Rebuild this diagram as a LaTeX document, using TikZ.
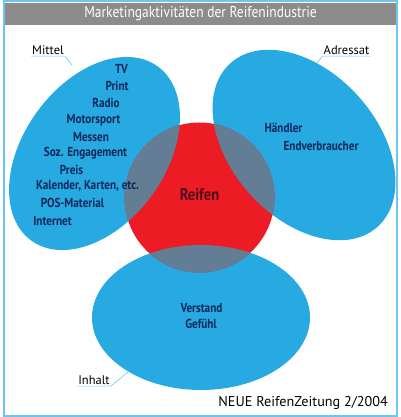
\documentclass[tikz,border=0pt]{standalone}
\usepackage{fontspec}
\setmainfont{PT Sans}
\newfontfamily\condfont[FakeStretch=0.86]{PT Sans}
\usetikzlibrary{positioning}

\definecolor{ellblue}{RGB}{39,169,225}
\definecolor{reifred}{RGB}{237,28,36}
\definecolor{overlapgray}{RGB}{98,125,148}
\definecolor{itemnavy}{RGB}{16,40,90}
\definecolor{reiftext}{RGB}{80,15,30}
\definecolor{framebl}{RGB}{110,198,238}
\definecolor{titlegray}{RGB}{140,140,140}

\tikzset{
  item/.style={font=\condfont\bfseries\fontsize{13}{15}\selectfont, text=itemnavy, inner sep=0pt},
  tag/.style={font=\fontsize{12.5}{14}\selectfont, text=black, inner xsep=1pt, inner ysep=1.5pt, text depth=0pt},
  leader/.style={framebl, line width=0.6pt},
}

\begin{document}
\begin{tikzpicture}[x=1pt,y=1pt]
\useasboundingbox (0,0) rectangle (400,417);

% frame and title bar
\draw[framebl, line width=1.5pt] (4,1) rectangle (397,416);
\fill[titlegray] (4.75,392) rectangle (396.25,414);
\node[font=\condfont\fontsize{15.7}{17}\selectfont, text=white, inner sep=0pt] (title) at (200.5,403) {Marketingaktivit\"aten der Reifenindustrie};

% ellipses
\fill[ellblue, rotate around={54:(94.5,263.5)}] (94.5,263.5) ellipse (107.6pt and 71pt); % Mittel
\fill[ellblue, rotate around={-48:(304,272)}] (304,272) ellipse (110pt and 73pt); % Adressat
\fill[ellblue] (201,99.5) ellipse (109pt and 72.5pt); % Inhalt

% Reifen
\fill[reifred] (199.5,219.5) circle (75pt);

% overlaps
\begin{scope}
\clip (199.5,219.5) circle (75pt);
\fill[overlapgray, rotate around={54:(94.5,263.5)}] (94.5,263.5) ellipse (107.6pt and 71pt);
\fill[overlapgray, rotate around={-48:(304,272)}] (304,272) ellipse (110pt and 73pt);
\fill[overlapgray] (201,99.5) ellipse (109pt and 72.5pt);
\end{scope}

\node[item, font=\condfont\bfseries\fontsize{17}{19}\selectfont, text=reiftext] (reifen) at (199.5,222) {Reifen};

% Mittel
\node[item] (tv) at (121.5,348) {TV};
\node[item] (print) at (117,331) {Print};
\node[item] (radio) at (106,314) {Radio};
\node[item] (motorsport) at (93.5,297) {Motorsport};
\node[item] (messen) at (91,280) {Messen};
\node[item] (soz) at (85.5,264) {Soz. Engagement};
\node[item] (preis) at (71.5,247) {Preis};
\node[item] (kalender) at (87.5,231) {Kalender, Karten, etc.};
\node[item] (pos) at (72.5,214) {POS-Material};
\node[item] (internet) at (52.5,196) {Internet};

% Adressat
\node[item] (haendler) at (283.5,289) {H\"andler};
\node[item] (endverb) at (321,271) {Endverbraucher};

% Inhalt
\node[item] (verstand) at (201.5,109) {Verstand};
\node[item] (gefuehl) at (201,93) {Gef\"uhl};

% tags with leaders
\node[tag] (mittel) at (48,367) {Mittel};
\coordinate (mittelend) at (72,352);
\draw[leader] (mittel.south west) -- (mittel.south east) -- (mittelend);

\node[tag] (adressat) at (346.5,367) {Adressat};
\coordinate (adressatend) at (317,354);
\draw[leader] (adressat.south east) -- (adressat.south west) -- (adressatend);

\node[tag] (inhalt) at (94,37) {Inhalt};
\coordinate (inhaltend) at (128,45);
\draw[leader] (inhalt.south west) -- (inhalt.south east) -- (inhaltend);

% source
\node[font=\fontsize{14.2}{16}\selectfont, inner sep=0pt, anchor=east] (quelle) at (388,14) {NEUE ReifenZeitung 2/2004};
\end{tikzpicture}
\end{document}
